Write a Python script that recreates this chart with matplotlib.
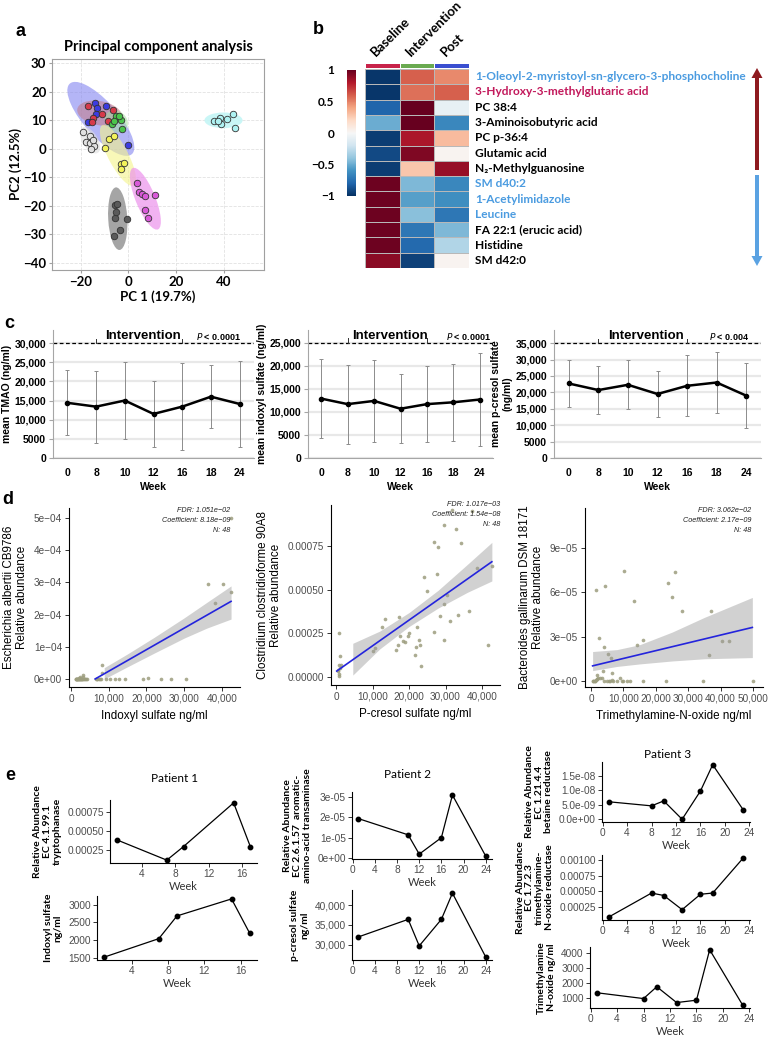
import numpy as np
import matplotlib
matplotlib.use('Agg')
import matplotlib.pyplot as plt
from matplotlib.patches import Ellipse, FancyArrow
from matplotlib.colors import ListedColormap
from matplotlib import font_manager

# ---------------- data ----------------
# a: PCA scores per group
blue_pc1 = [-17, -14, -13, -13.5, -9.5, 0]
blue_pc2 = [9.5, 16, 14.3, 12.2, 15.1, 1.2]
red_pc1 = [-17, -14.8, -15.2, -11, -6.5, -8.7]
red_pc2 = [15, 10.8, 9.4, 12.2, 13.7, 9.7]
green_pc1 = [-5, -3, -7, -2.5, -4, -5.8]
green_pc2 = [11.4, 10.2, 8.8, 7, 11.4, 9.6]
yellow_pc1 = [-8, -5.8, -9.7, -3.2, -1.7, -2.9]
yellow_pc2 = [3.5, 4.6, 0.3, -5.5, -5.1, -7]
magenta_pc1 = [3.6, 4.6, 5.8, 7.2, 11.2, 7.2, 8.4]
magenta_pc2 = [-11.9, -15, -15.9, -16.5, -16.3, -21.4, -24.3]
dgray_pc1 = [-5.4, -5.4, -5, -0.7, -3.3, -5.8, -4.6]
dgray_pc2 = [-19.8, -24.4, -22.3, -24.7, -28.5, -30.7, -19.5]
lgray_pc1 = [-18.8, -16.2, -17.7, -16, -14.2, -15.5, -14.9]
lgray_pc2 = [5.8, 4.6, 2.3, 1.9, 0.9, 0, 3]
cyan_pc1 = [36, 38.4, 39.1, 41.3, 43.8, 45, 37.5]
cyan_pc2 = [9.7, 10.8, 8.8, 10.5, 12.3, 7.3, 9.9]

# b: heatmap
hm_cols = ['Baseline', 'Intervention', 'Post']
hm_rows = ['1-Oleoyl-2-myristoyl-sn-glycero-3-phosphocholine',
           '3-Hydroxy-3-methylglutaric acid', 'PC 38:4',
           '3-Aminoisobutyric acid', 'PC p-36:4', 'Glutamic acid',
           'N\u2082-Methylguanosine', 'SM d40:2', '1-Acetylimidazole',
           'Leucine', 'FA 22:1 (erucic acid)', 'Histidine', 'SM d42:0']
hm_baseline = [-0.97, -0.97, -0.8, -0.5, -0.95, -0.9, -0.95,
               0.98, 0.98, 0.98, 0.98, 0.98, 0.9]
hm_intervention = [0.6, 0.55, 1.0, 1.0, 0.82, 0.93, 0.28,
                   -0.45, -0.55, -0.42, -0.72, -0.78, -0.93]
hm_post = [0.48, 0.6, -0.08, -0.65, 0.32, 0.03, 0.87,
           -0.65, -0.62, -0.72, -0.45, -0.3, 0.03]

# c: means and SD per visit
weeks_c = ['0', '8', '10', '12', '16', '18', '24']
tmao_mean = [14400, 13400, 15000, 11500, 13400, 16000, 14100]
tmao_sd = [8500, 9400, 9950, 8700, 11300, 8300, 11100]
indoxyl_mean = [12900, 11700, 12400, 10700, 11700, 12100, 12700]
indoxyl_sd = [8600, 8600, 8950, 7550, 8300, 8300, 10100]
pcresol_mean = [22700, 20700, 22300, 19500, 22000, 23000, 19000]
pcresol_sd = [7250, 7250, 7500, 6900, 9350, 9350, 9800]

# d: scatter + fitted lines
d1_x = [1200, 1300, 1400, 1500, 1600, 1700, 1800, 1900, 2000, 2100, 2200, 2300,
        2400, 2500, 2600, 2700, 2800, 3000, 3100, 3300, 3500, 3600, 4000, 4300,
        6500, 6800, 7000, 7400, 8000, 8100, 8100, 9300, 10400, 11700, 12800,
        14300, 19200, 20500, 23800, 26500, 30500, 36200, 38200, 40300, 42400,
        42500, 3200, 7700]
d1_y = [0, 0, 0, 0, 0, 0, 0, 0, 3e-6, 0, 0, 0,
        0, 5e-6, 0, 0, 0, 0, 1.2e-5, 0, 0, 0, 0, 0,
        0, 0, 0, 0, 0, 4.3e-5, 1.8e-5, 0, 0, 0, 0,
        0, 0, 2e-6, 0, 0, 0, 2.96e-4, 2.37e-4, 2.94e-4, 2.71e-4,
        5.0e-4, 6e-6, 0]
d1_line_x = [6400, 42400]
d1_line_y = [0, 2.41e-4]
d1_band_x = [8800, 15000, 22000, 30000, 36000, 42400]
d1_band_lo = [0.0, 0.38e-4, 0.80e-4, 1.27e-4, 1.58e-4, 1.86e-4]
d1_band_hi = [0.35e-4, 0.78e-4, 1.29e-4, 1.90e-4, 2.38e-4, 2.89e-4]

d2_x = [730, 1190, 730, 1460, 550, 910, 460, 10050, 10780, 12600, 13500, 17170,
        16440, 16990, 17630, 18260, 19730, 20090, 21550, 22010, 22190, 22650,
        23100, 23290, 24110, 24930, 26940, 26940, 27670, 27950, 28400, 29500,
        29500, 29500, 30410, 31320, 31780, 32880, 33330, 34340, 36350, 37260,
        38630, 41550, 42740, 1000, 900, 19000]
d2_y = [0.000251, 0.000118, 0.000070, 0.000070, 0.000032, 0.000004, 0.000042,
        0.000150, 0.000166, 0.000286, 0.000331, 0.000345, 0.000156, 0.000185,
        0.000232, 0.000204, 0.000232, 0.000251, 0.000124, 0.000170, 0.000284,
        0.000213, 0.000185, 0.000065, 0.000570, 0.000493, 0.000771, 0.000257,
        0.000589, 0.000743, 0.000350, 0.000870, 0.000417, 0.000213, 0.000467,
        0.000318, 0.000956, 0.000848, 0.000356, 0.000770, 0.000379, 0.000950,
        0.000623, 0.000185, 0.000638, 0.00005, 0.00002, 0.00020]
d2_line_x = [200, 42700]
d2_line_y = [0.000034, 0.000660]
d2_band_x = [4600, 12000, 20000, 28000, 36000, 42700]
d2_band_lo = [0.000011, 0.000161, 0.000289, 0.000395, 0.000485, 0.000550]
d2_band_hi = [0.000193, 0.000263, 0.000369, 0.000497, 0.000645, 0.000771]

d3_x = [500, 930, 1240, 1550, 1960, 2270, 2780, 3300, 4020, 4850, 5880, 6400,
        6900, 7940, 8970, 10000, 11240, 12060, 16190, 23200, 34500, 49900,
        1550, 4330, 2580, 4120, 5150, 6080, 3610, 6390, 1750, 10200, 13300,
        14330, 16190, 23700, 24950, 25980, 28040, 36290, 37010, 40410, 42470,
        700, 1100, 2000, 5500, 9500]
d3_y = [0, 0, 2e-7, 7e-7, 1.4e-6, 1.8e-6, 2.3e-6, 1.8e-6, 0, 0, 0, 7e-7,
        0, 0, 1.8e-6, 0, 0, 0, 0, 0, 0, 0,
        6.18e-5, 6.45e-5, 2.9e-5, 2.29e-5, 1.83e-5, 1.58e-5, 0.70e-5, 0.52e-5,
        0.41e-5, 7.42e-5, 5.38e-5, 2.44e-5, 2.78e-5, 6.63e-5, 5.66e-5, 7.35e-5,
        4.71e-5, 1.76e-5, 4.71e-5, 2.71e-5, 2.71e-5,
        0, 0, 1e-6, 0, 0]
d3_line_x = [500, 49800]
d3_line_y = [1.02e-5, 3.62e-5]
d3_band_x = [500, 8000, 15000, 25000, 35000, 49800]
d3_band_lo = [0.70e-5, 0.98e-5, 1.15e-5, 1.35e-5, 1.50e-5, 1.58e-5]
d3_band_hi = [1.99e-5, 2.12e-5, 2.45e-5, 3.30e-5, 4.30e-5, 5.65e-5]

# e: individual patients
p1_weeks = [1, 7, 9, 15, 17]
p1_tryptophanase = [0.00038, 0.00011, 0.00029, 0.00087, 0.00029]
p1_indoxyl = [1520, 2040, 2680, 3160, 2190]
p2_weeks = [1, 10, 12, 16, 18, 24]
p2_transaminase = [1.94e-5, 1.14e-5, 0.19e-5, 1.0e-5, 3.1e-5, 0.1e-5]
p2_pcresol = [31950, 36440, 29660, 36440, 43140, 26860]
p3_weeks = [1, 8, 10, 13, 16, 18, 23]
p3_betaine = [0.60e-8, 0.46e-8, 0.63e-8, 0.0, 0.97e-8, 1.87e-8, 0.32e-8]
p3_tmao_reductase = [0.00008, 0.00047, 0.00043, 0.00020, 0.00045, 0.00047, 0.00104]
p3_tmao = [1320, 930, 1730, 660, 820, 4230, 480]

# ---------------- figure ----------------
installed = {f.name for f in font_manager.fontManager.ttflist}
NARROW = 'Liberation Sans Narrow' if 'Liberation Sans Narrow' in installed else 'Liberation Sans'
CAL = ['Lato', 'DejaVu Sans']
ARIAL = 'Liberation Sans'

W, H = 770, 1038
fig = plt.figure(figsize=(W / 100, H / 100), dpi=100)


def add_ax(l, t, r, b):
    return fig.add_axes([l / W, 1 - b / H, (r - l) / W, (b - t) / H])


ov = fig.add_axes([0, 0, 1, 1], zorder=10)
ov.set_xlim(0, W)
ov.set_ylim(H, 0)
ov.axis('off')

for lab, x, y in [('a', 21, 31), ('b', 318, 30), ('c', 9, 323), ('d', 8, 500), ('e', 10, 775)]:
    ov.text(x, y, lab, family=ARIAL, weight='bold', size=13, ha='center', va='center')

# ---- a: PCA ----
ax = add_ax(52, 59, 264, 270)
pca_style = [
    (blue_pc1, blue_pc2, '#3c3ce0', (-11.5, 10.5, 36, 13, -42), '#8385f0', 0.6),
    (red_pc1, red_pc2, '#d63a4a', (-12, 12.5, 19, 8.5, -8), '#c47a86', 0.55),
    (green_pc1, green_pc2, '#4cc44c', (-5, 9.6, 10, 7.5, -20), '#a6dda0', 0.55),
    (yellow_pc1, yellow_pc2, '#f2f25a', (-4.3, -2.3, 25, 8, -57), '#f4f48a', 0.6),
    (magenta_pc1, magenta_pc2, '#d85ad8', (7.2, -17.5, 24, 8, -63), '#ec92ec', 0.7),
    (dgray_pc1, dgray_pc2, '#5a5a5a', (-4.4, -24.5, 22, 8, -86), '#8f8f8f', 0.8),
    (lgray_pc1, lgray_pc2, '#e0e0e0', (-16, 3, 11, 6, -50), '#dedede', 0.6),
    (cyan_pc1, cyan_pc2, '#aef2f2', (40, 10, 16, 5.5, 0), '#c4f6f6', 0.9),
]
for px, py, pc, (cx, cy, ew, eh, ang), ec, ea in pca_style:
    ax.add_patch(Ellipse((cx, cy), ew, eh, angle=ang, facecolor=ec, alpha=ea, lw=0, zorder=1))
for px, py, pc, _, _, _ in pca_style:
    ax.scatter(px, py, s=22, facecolor=pc, edgecolor='#333333', lw=0.6, zorder=3)
ax.set_xlim(-32, 57)
ax.set_ylim(-42.5, 31.5)
ax.set_xticks([-20, 0, 20, 40])
ax.set_yticks([-40, -30, -20, -10, 0, 10, 20, 30])
ax.grid(color='#e2e2e2', ls='--', lw=0.6)
ax.set_axisbelow(True)
for s in ax.spines.values():
    s.set_color('#a0a0a0')
ax.tick_params(length=2, color='#a0a0a0', labelsize=9.5, pad=2)
for t in ax.get_xticklabels() + ax.get_yticklabels():
    t.set_family(CAL)
    t.set_weight('bold')
ax.set_title('Principal component analysis', family=CAL, weight='bold', size=10.5, pad=6)
ax.set_xlabel('PC 1 (19.7%)', family=CAL, weight='bold', size=9.5, labelpad=2)
ax.set_ylabel('PC2 (12.5%)', family=CAL, weight='bold', size=9.5, labelpad=1)

# ---- b: heatmap ----
hm = add_ax(365, 69, 469, 268)
vals = np.array([hm_baseline, hm_intervention, hm_post]).T
mesh = hm.pcolormesh(vals, cmap='RdBu_r', vmin=-1, vmax=1, edgecolors='#b8b8b8', linewidth=0.4)
hm.set_xlim(0, 3)
hm.set_ylim(len(hm_rows), 0)
hm.axis('off')

gb = add_ax(365, 63, 469, 68)
gb.pcolormesh([[0, 1, 2]], cmap=ListedColormap(['#c8234a', '#6aaa50', '#3a4fd0']),
              edgecolors='white', linewidth=0.6)
gb.axis('off')

col_w = (469 - 365) / 3
for i, name in enumerate(hm_cols):
    ov.text(365 + (i + 0.5) * col_w - 6, 57, name, rotation=45, rotation_mode='anchor',
            ha='left', va='baseline', family=CAL, weight='bold', size=9.5)

row_colors = ['#4a9be0', '#c2185b', 'black', 'black', 'black', 'black', 'black',
              '#4a9be0', '#4a9be0', '#4a9be0', 'black', 'black', 'black']
row_h = (268 - 69) / len(hm_rows)
for i, (name, c) in enumerate(zip(hm_rows, row_colors)):
    ov.text(475, 69 + (i + 0.5) * row_h, name, ha='left', va='center', color=c,
            family=CAL, weight='bold', size=8.6)

cax = add_ax(347, 70, 356, 196)
cb = fig.colorbar(mesh, cax=cax, ticks=[-1, -0.5, 0, 0.5, 1])
cb.outline.set_visible(False)
cax.yaxis.set_ticks_position('left')
cax.set_yticklabels(['\u22121', '\u22120.5', '0', '0.5', '1'])
cax.tick_params(length=0, pad=9, labelsize=8.5)
for t in cax.get_yticklabels():
    t.set_family(CAL)
    t.set_weight('bold')

ov.add_patch(FancyArrow(757, 170, 0, -102, width=4, head_width=11, head_length=10,
                        length_includes_head=True, color='#8e1a1f', lw=0))
ov.add_patch(FancyArrow(757, 175, 0, 91, width=4, head_width=11, head_length=10,
                        length_includes_head=True, color='#5aa2e2', lw=0))


# ---- c: excel style line charts ----
def excel_chart(l, r, mean, sd, ytop, ref, yticks, ylabels, ylabel, p_text, p_x):
    ax = add_ax(l, 330, r, 458)
    x = np.arange(len(weeks_c))
    ax.set_xlim(-0.5, len(weeks_c) - 0.5)
    ax.set_ylim(0, ytop)
    ax.set_yticks(yticks)
    ax.set_yticklabels(ylabels, family=NARROW, weight='bold', size=7.5)
    ax.set_xticks(x)
    ax.set_xticklabels(weeks_c, family=NARROW, weight='bold', size=7.5)
    ax.tick_params(axis='x', length=0, pad=7)
    ax.tick_params(axis='y', length=3, color='#a6a6a6', pad=2)
    ax.yaxis.grid(True, color='#e8e8e8', lw=1.6)
    ax.set_axisbelow(True)
    for s in ['top', 'right']:
        ax.spines[s].set_visible(False)
    for s in ['left', 'bottom']:
        ax.spines[s].set_color('#a6a6a6')
    ax.errorbar(x, mean, yerr=sd, color='black', lw=1.8, marker='o', ms=3,
                ecolor='#8c8c8c', elinewidth=0.7, capsize=1.5, capthick=0.7, zorder=3)
    ax.axhline(ref, color='black', lw=0.9, ls=(0, (3, 2)))
    tr = ax.get_xaxis_transform()
    f = ref / ytop
    ax.text(2.62, 0.953, 'Intervention', transform=tr, ha='center', va='center',
            family=NARROW, weight='bold', size=9.5)
    for xi in [1, 4]:
        ax.plot([xi, xi], [f, f + 0.035], transform=tr, color='#333333', lw=0.7)
    ax.text(p_x, 0.953, p_text, transform=tr, ha='left', va='center',
            family=NARROW, weight='bold', size=6.5)
    ax.set_ylabel(ylabel, family=NARROW, weight='bold', size=7.5, labelpad=2)
    ax.set_xlabel('Week', family=NARROW, weight='bold', size=7.5, labelpad=3)
    return ax


excel_chart(53, 254, tmao_mean, tmao_sd, 33400, 30000,
            [0, 5000, 10000, 15000, 20000, 25000, 30000],
            ['0', '5000', '10,000', '15,000', '20,000', '25,000', '30,000'],
            'mean TMAO (ng/ml)', r'$\mathit{P}$ < 0.0001', 4.48)
excel_chart(308, 493, indoxyl_mean, indoxyl_sd, 27800, 25000,
            [0, 5000, 10000, 15000, 20000, 25000],
            ['0', '5000', '10,000', '15,000', '20,000', '25,000'],
            'mean indoxyl sulfate (ng/ml)', r'$\mathit{P}$ < 0.0001', 4.73)
excel_chart(554, 761, pcresol_mean, pcresol_sd, 39000, 35000,
            [0, 5000, 10000, 15000, 20000, 25000, 30000, 35000],
            ['0', '5000', '10,000', '15,000', '20,000', '25,000', '30,000', '35,000'],
            'mean p-cresol sulfate\n(ng/ml)', r'$\mathit{P}$ < 0.004', 4.74)


# ---- d: ggplot scatter ----
def gg_scatter(box, xs, ys, lx, ly, bx, blo, bhi, xlim, ylim, yticks, ylabels,
               xticks, xlabel, ylabel, notes, note_pos):
    ax = add_ax(*box)
    ax.scatter(xs, ys, s=7, color='#9c9d7e', alpha=0.85, lw=0, zorder=2)
    ax.fill_between(bx, blo, bhi, color='#9a9a9a', alpha=0.45, lw=0, zorder=3)
    ax.plot(lx, ly, color='#2424dc', lw=1.2, zorder=4)
    ax.set_xlim(*xlim)
    ax.set_ylim(*ylim)
    ax.set_xticks(xticks)
    ax.set_xticklabels(['{:,}'.format(v) for v in xticks])
    ax.set_yticks(yticks)
    ax.set_yticklabels(ylabels)
    for s in ['top', 'right']:
        ax.spines[s].set_visible(False)
    for s in ['left', 'bottom']:
        ax.spines[s].set_linewidth(0.8)
    ax.tick_params(length=3, width=0.7, color='#333333', labelcolor='#4d4d4d',
                   labelsize=7.2, pad=2)
    for t in ax.get_xticklabels() + ax.get_yticklabels():
        t.set_family(ARIAL)
    ax.set_xlabel(xlabel, family=ARIAL, size=8.4, labelpad=4)
    ax.set_ylabel(ylabel, family=ARIAL, size=8.4, labelpad=4, linespacing=1.1)
    nx, ny = note_pos
    for k, line in enumerate(notes):
        ov.text(nx, ny + k * 10, line, ha='right', va='center', family=ARIAL,
                style='italic', size=5.2, color='#222222')


gg_scatter((69, 508, 240, 687), d1_x, d1_y, d1_line_x, d1_line_y, d1_band_x,
           d1_band_lo, d1_band_hi, (-530, 44770), (-0.25e-4, 5.31e-4),
           [0, 1e-4, 2e-4, 3e-4, 4e-4, 5e-4],
           ['0e+00', '1e\u221204', '2e\u221204', '3e\u221204', '4e\u221204', '5e\u221204'],
           [0, 10000, 20000, 30000, 40000], 'Indoxyl sulfate ng/ml',
           'Escherichia albertii CB9786\nRelative abundance',
           ['FDR: 1.051e\u221202', 'Coefficient: 8.18e\u221209', 'N: 48'], (230, 511))
gg_scatter((331, 505, 500, 685), d2_x, d2_y, d2_line_x, d2_line_y, d2_band_x,
           d2_band_lo, d2_band_hi, (-1370, 44930), (-0.0000458, 0.000985),
           [0, 0.00025, 0.0005, 0.00075],
           ['0.00000', '0.00025', '0.00050', '0.00075'],
           [0, 10000, 20000, 30000, 40000], 'P-cresol sulfate ng/ml',
           'Clostridium clostridioforme 90A8\nRelative abundance',
           ['FDR: 1.017e\u221203', 'Coefficient: 1.54e\u221208', 'N: 48'], (500, 505))
gg_scatter((585, 508, 763, 687), d3_x, d3_y, d3_line_x, d3_line_y, d3_band_x,
           d3_band_lo, d3_band_hi, (-1850, 53090), (-0.41e-5, 11.7e-5),
           [0, 3e-5, 6e-5, 9e-5],
           ['0e+00', '3e\u221205', '6e\u221205', '9e\u221205'],
           [0, 10000, 20000, 30000, 40000, 50000], 'Trimethylamine-N-oxide ng/ml',
           'Bacteroides gallinarum DSM 18171\nRelative abundance',
           ['FDR: 3.062e\u221202', 'Coefficient: 2.17e\u221209', 'N: 48'], (751, 511))


# ---- e: patient time courses ----
def gg_line(box, weeks, vals, xticks, yticks, ylabels, ylabel):
    ax = add_ax(*box)
    ax.plot(weeks, vals, color='black', lw=0.9, marker='o', ms=3.2)
    ax.set_xticks(xticks)
    ax.set_yticks(yticks)
    ax.set_yticklabels(ylabels)
    for s in ['top', 'right']:
        ax.spines[s].set_visible(False)
    ax.tick_params(length=3, width=0.7, color='#333333', labelcolor='#4d4d4d',
                   labelsize=7.3, pad=1.5)
    for t in ax.get_xticklabels() + ax.get_yticklabels():
        t.set_family(ARIAL)
    ax.set_xlabel('Week', family=CAL, size=8, color='#333333', labelpad=1)
    ax.set_ylabel(ylabel, family=CAL, weight='bold', size=7.5, labelpad=4, linespacing=1.1)
    return ax


wk16 = [4, 8, 12, 16]
wk24 = [0, 4, 8, 12, 16, 20, 24]
gg_line((110, 800, 257, 863), p1_weeks, p1_tryptophanase, wk16,
        [0.00025, 0.0005, 0.00075], ['0.00025', '0.00050', '0.00075'],
        'Relative Abundance\nEC 4.1.99.1\ntryptophanase')
gg_line((97, 896, 257, 960), p1_weeks, p1_indoxyl, wk16,
        [1500, 2000, 2500, 3000], ['1500', '2000', '2500', '3000'],
        'Indoxyl sulfate\nng/ml')
gg_line((352, 792, 492, 859), p2_weeks, p2_transaminase, wk24,
        [0, 1e-5, 2e-5, 3e-5], ['0e+00', '1e-05', '2e-05', '3e-05'],
        'Relative Abundance\nEC 2.6.1.57  aromatic-\namino-acid transaminase')
gg_line((352, 890, 492, 960), p2_weeks, p2_pcresol, wk24,
        [30000, 35000, 40000], ['30,000', '35,000', '40,000'],
        'p-cresol sulfate\nng/ml')
gg_line((602, 762, 750, 822), p3_weeks, p3_betaine, wk24,
        [0, 5e-9, 1e-8, 1.5e-8], ['0.0e+00', '5.0e-09', '1.0e-08', '1.5e-08'],
        'Relative Abundance\nEC 1.21.4.4\nbetaine reductase')
gg_line((602, 855, 750, 920), p3_weeks, p3_tmao_reductase, wk24,
        [0.00025, 0.0005, 0.00075, 0.001], ['0.00025', '0.00050', '0.00075', '0.00100'],
        'Relative Abundance\nEC 1.7.2.3\ntrimethylamine-\nN-oxide reductase')
gg_line((590, 947, 750, 1008), p3_weeks, p3_tmao, wk24,
        [1000, 2000, 3000, 4000], ['1000', '2000', '3000', '4000'],
        'Trimethylamine\nN-oxide ng/ml')

for name, x, y in [('Patient 1', 175, 778), ('Patient 2', 407, 775), ('Patient 3', 668, 755)]:
    ov.text(x, y, name, ha='center', va='center', family=CAL, size=8.5)

fig.savefig('out.png', dpi=100, facecolor='white')
